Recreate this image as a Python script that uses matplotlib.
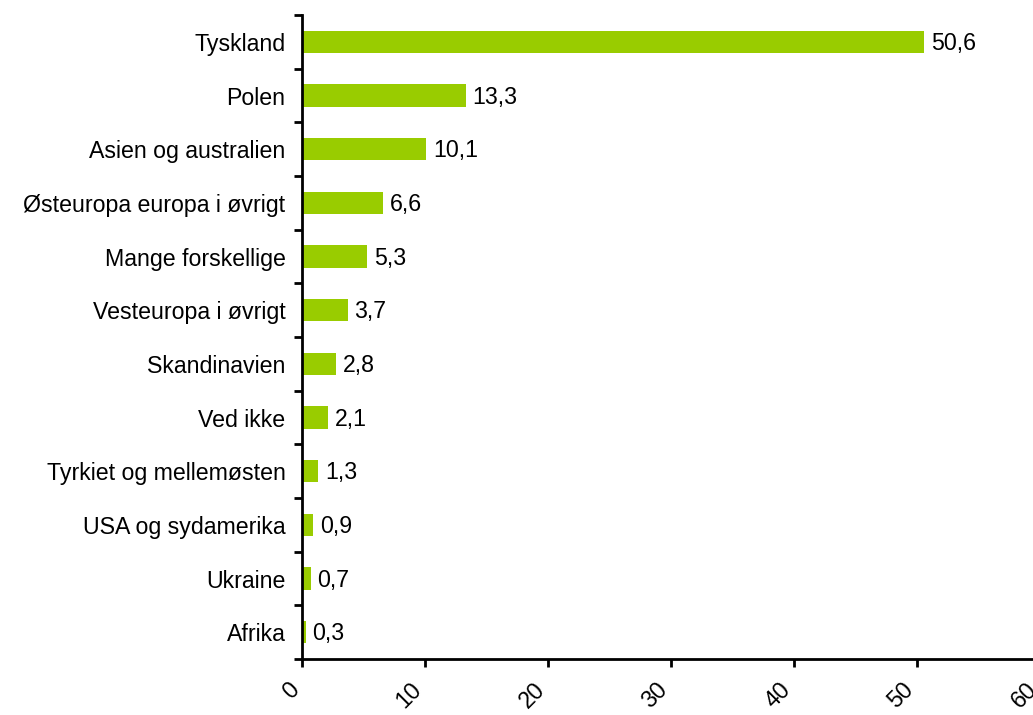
import numpy as np
import matplotlib.pyplot as plt
import matplotlib.transforms as mtransforms
from matplotlib.ticker import FixedLocator, NullFormatter

plt.rcParams['font.family'] = ['Liberation Sans', 'DejaVu Sans']

# data
categories = ["Tyskland", "Polen", "Asien og australien", "Østeuropa europa i øvrigt",
              "Mange forskellige", "Vesteuropa i øvrigt", "Skandinavien", "Ved ikke",
              "Tyrkiet og mellemøsten", "USA og sydamerika", "Ukraine", "Afrika"]
values = [50.6, 13.3, 10.1, 6.6, 5.3, 3.7, 2.8, 2.1, 1.3, 0.9, 0.7, 0.3]
x_ticks = [0, 10, 20, 30, 40, 50, 60]


def main():
    fig = plt.figure(figsize=(10.33, 7.15), dpi=100)
    ax = fig.add_axes([0.2924, 0.0783, 0.7144, 0.9007])

    y = np.arange(len(categories))
    ax.barh(y, values, height=0.42, color="#99CC00")
    for yi, v in zip(y, values):
        ax.text(v + 0.55, yi + 0.03, f"{v:.1f}".replace(".", ","), va="center", ha="left", fontsize=16.7)

    ax.set_ylim(len(categories) - 0.5, -0.5)
    ax.set_xlim(0, 60)
    ax.set_yticks(y)
    ax.set_yticklabels(categories, fontsize=16.7)
    ax.tick_params(axis="y", which="major", length=0, pad=12)
    ax.yaxis.set_minor_locator(FixedLocator(np.arange(-0.5, len(categories), 1.0)))
    ax.yaxis.set_minor_formatter(NullFormatter())
    ax.tick_params(axis="y", which="minor", length=6, width=2, direction="out")

    ax.set_xticks(x_ticks)
    ax.set_xticklabels([str(t) for t in x_ticks], fontsize=16.7, rotation=45,
                       ha="right", va="top", rotation_mode="anchor")
    ax.tick_params(axis="x", length=6, width=2, direction="out", pad=14)
    # rotated labels sit a little left of their ticks, like in the original
    shift = mtransforms.ScaledTranslation(-0.15, 0.09, fig.dpi_scale_trans)
    for lbl in ax.get_xticklabels():
        lbl.set_transform(lbl.get_transform() + shift)

    for side in ["top", "right"]:
        ax.spines[side].set_visible(False)
    for side in ["left", "bottom"]:
        ax.spines[side].set_linewidth(2)

    fig.savefig("out.png", dpi=100)


if __name__ == "__main__":
    main()
